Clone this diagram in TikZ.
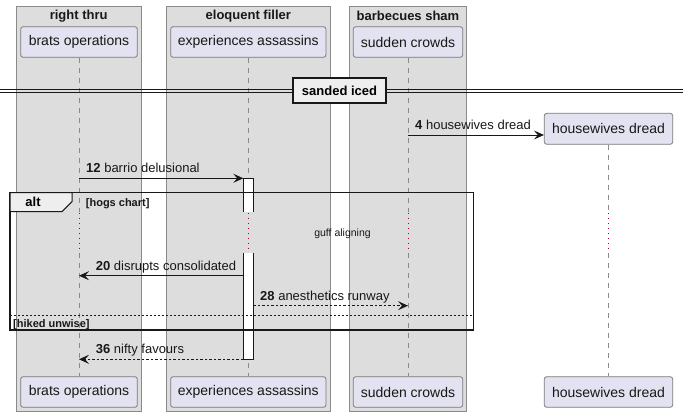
\documentclass[tikz,border=0pt]{standalone}
\usepackage{fontspec}
\setmainfont{Liberation Sans}
\usetikzlibrary{arrows.meta}
\definecolor{grpfill}{HTML}{DDDDDD}
\definecolor{grpline}{HTML}{8A8A8A}
\definecolor{partfill}{HTML}{E2E2F0}
\definecolor{partline}{HTML}{7A7A7A}
\definecolor{lifeline}{HTML}{8A8A8A}
\definecolor{ink}{HTML}{181818}
\definecolor{delayred}{HTML}{A80036}
\definecolor{tabfill}{HTML}{EEEEEE}
\tikzset{
  grpbox/.style={fill=grpfill, draw=grpline, line width=0.8pt},
  grptitle/.style={font=\fontsize{13}{15}\selectfont\bfseries, inner sep=0pt, text=ink},
  part/.style={fill=partfill, draw=partline, line width=0.8pt, rounded corners=2.5pt,
    font=\fontsize{14}{16}\selectfont, text=ink, inner sep=0pt},
  life/.style={draw=lifeline, line width=0.8pt, dash pattern=on 5pt off 5pt},
  delayline/.style={draw=delayred, line width=0.9pt, dash pattern=on 1pt off 4pt},
  msg/.style={draw=ink, line width=0.9pt, -{Stealth[length=10pt,width=9pt,inset=4pt]}},
  rmsg/.style={msg, dash pattern=on 2.5pt off 2pt},
  mlabel/.style={font=\fontsize{13}{15}\selectfont, inner sep=0pt, anchor=base west, text=ink},
  frametab/.style={fill=tabfill, draw=ink, line width=1pt},
  bsmall/.style={font=\fontsize{11}{13}\selectfont\bfseries, inner sep=0pt, text=ink},
}
\begin{document}
\begin{tikzpicture}[x=1pt,y=-1pt]
\useasboundingbox (0,0) rectangle (683,417);
% group boxes
\draw[grpbox] (16,6) rectangle (141.5,411.7);
\draw[grpbox] (166,6) rectangle (330.7,411.7);
\draw[grpbox] (349.3,6) rectangle (466.7,411.7);
\node[grptitle] (g1) at (78.7,16) {right thru};
\node[grptitle] (g2) at (248.3,16) {eloquent filler};
\node[grptitle] (g3) at (408,16) {barbecues sham};
% participants (top)
\node[part, minimum width=116.6pt, minimum height=30.6pt] (p1) at (79,42) {brats operations};
\node[part, minimum width=155.3pt, minimum height=30.6pt] (p2) at (248.3,42) {experiences assassins};
\node[part, minimum width=109.4pt, minimum height=30.6pt] (p3) at (408,42) {sudden crowds};
\node[part, minimum width=128.4pt, minimum height=31pt] (p4) at (608.5,128.8) {housewives dread};
% participants (bottom)
\node[part, minimum width=116.6pt, minimum height=30.6pt] (q1) at (79,392) {brats operations};
\node[part, minimum width=155.3pt, minimum height=30.6pt] (q2) at (248.3,392) {experiences assassins};
\node[part, minimum width=109.4pt, minimum height=30.6pt] (q3) at (408,392) {sudden crowds};
\node[part, minimum width=128.4pt, minimum height=30.6pt] (q4) at (608.5,392) {housewives dread};
% lifelines with delay
\foreach \p/\q in {p1/q1,p2/q2,p3/q3} {
  \draw[life] (\p.south) -- (\p.south |- 0,211.7);
  \draw[delayline] (\p.south |- 0,212.5) -- (\p.south |- 0,253.3);
  \draw[life] (\p.south |- 0,253.3) -- (\q.north);
}
\draw[life] (p4.south) -- (p4.south |- 0,211.7);
\draw[delayline] (p4.south |- 0,212.5) -- (p4.south |- 0,253.3);
\draw[life] (p4.south |- 0,253.3) -- (q4.north);
% separator
\coordinate (sepL) at (0,91);
\coordinate (sepR) at (683,91);
\draw[ink, line width=0.9pt] ([yshift=-1.6pt]sepL) -- ([yshift=-1.6pt]sepR);
\draw[ink, line width=0.9pt] ([yshift=1.6pt]sepL) -- ([yshift=1.6pt]sepR);
\node[fill=tabfill, draw=ink, line width=2pt, minimum width=93pt, minimum height=25pt,
  font=\fontsize{13}{15}\selectfont\bfseries, inner sep=0pt] (sep) at (339.5,91) {sanded iced};
% activation
\fill[white] (243.3,178.3) rectangle (253.3,211.7);
\draw[ink, line width=0.9pt] (243.3,211.7) -- (243.3,178.3) -- (253.3,178.3) -- (253.3,211.7);
\fill[white] (243.3,253.3) rectangle (253.3,359.3);
\draw[ink, line width=0.9pt] (243.3,253.3) -- (243.3,359.3) -- (253.3,359.3) -- (253.3,253.3);
\coordinate (actL12) at (243.3,178.3);
\coordinate (actL20) at (243.3,275.7);
\coordinate (actR28) at (253.3,305.7);
\coordinate (actL36) at (243.3,359.3);
\coordinate (m4) at (407,135);
% alt frame
\draw[ink, line width=1.5pt] (10,192.7) rectangle (473.3,330);
\draw[frametab] (10,192.7) -- (72,192.7) -- (72,201.7) -- (62,211.7) -- (10,211.7) -- cycle;
\node[font=\fontsize{13}{15}\selectfont\bfseries, inner sep=0pt] (alt) at (33,202.2) {alt};
\node[bsmall, anchor=base west] (c1) at (85.7,206.8) {[hogs chart]};
\draw[ink, line width=0.9pt, dash pattern=on 2pt off 2pt] (10,315) -- (473.3,315);
\node[bsmall, anchor=base west] (c2) at (13,327.3) {[hiked unwise]};
% delay text
\node[font=\fontsize{10.5}{12}\selectfont, inner sep=0pt, text=ink] (delay) at (342.5,233.3) {guff aligning};
% messages
\draw[msg] (p3.south |- m4) -- (p4.west |- m4);
\node[mlabel] (l4) at (415,129.5) {\textbf{4} housewives dread};
\draw[msg] (p1.south |- actL12) -- (actL12);
\node[mlabel] (l12) at (86,172.7) {\textbf{12} barrio delusional};
\draw[msg] (actL20) -- (p1.south |- actL20);
\node[mlabel] (l20) at (95.7,270) {\textbf{20} disrupts consolidated};
\draw[rmsg] (actR28) -- (p3.south |- actR28);
\node[mlabel] (l28) at (260,300) {\textbf{28} anesthetics runway};
\draw[rmsg] (actL36) -- (p1.south |- actL36);
\node[mlabel] (l36) at (95.7,353.5) {\textbf{36} nifty favours};
\end{tikzpicture}
\end{document}
